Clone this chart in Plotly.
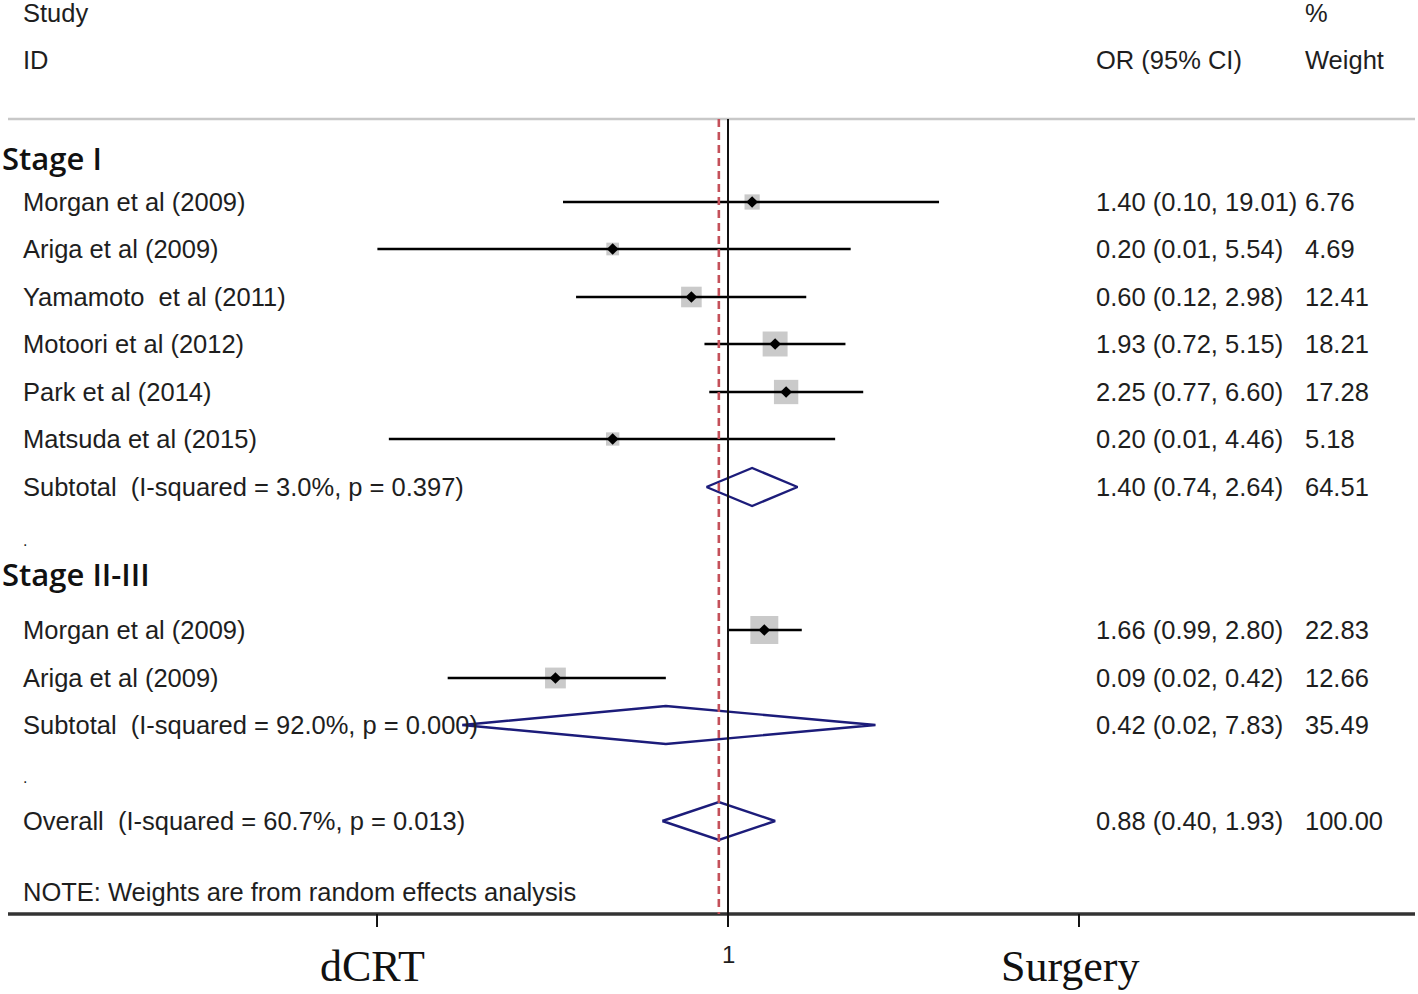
import plotly.graph_objects as go
import math

# ---------------- data ----------------
studies = ["Morgan et al (2009)", "Ariga et al (2009)", "Yamamoto  et al (2011)",
           "Motoori et al (2012)", "Park et al (2014)", "Matsuda et al (2015)",
           "Morgan et al (2009)", "Ariga et al (2009)"]
study_or = [1.40, 0.20, 0.60, 1.93, 2.25, 0.20, 1.66, 0.09]
study_lo = [0.10, 0.0075, 0.12, 0.72, 0.77, 0.0088, 0.99, 0.02]
study_hi = [19.01, 5.54, 2.98, 5.15, 6.60, 4.46, 2.80, 0.42]
study_wt = [6.76, 4.69, 12.41, 18.21, 17.28, 5.18, 22.83, 12.66]

pooled_labels = ["Subtotal  (I-squared = 3.0%, p = 0.397)",
                 "Subtotal  (I-squared = 92.0%, p = 0.000)",
                 "Overall  (I-squared = 60.7%, p = 0.013)"]
pooled_or = [1.40, 0.42, 0.88]
pooled_lo = [0.74, 0.0245, 0.40]
pooled_hi = [2.64, 7.83, 1.93]
pooled_wt = [64.51, 35.49, 100.00]

groups = ["Stage I", "Stage II-III"]
tick_vals = [1 / 134, 1, 134]
tick_text = ["", "1", ""]
left_label = "dCRT"
right_label = "Surgery"
note = "NOTE: Weights are from random effects analysis"

# ---------------- layout (page pixel rows) ----------------
W, H = 1418, 994
PX_PER_DEC = 165.0
X1_PX = 728.0
study_rows = [202, 249, 297, 344, 392, 439, 630, 678]
pooled_rows = [487, 725, 821]
group_rows = [158, 574]
dot_rows = [540, 777]
TOP_LINE, BOTTOM_LINE, TICK_END = 119, 914, 927
COL_NAME, COL_OR, COL_WT = 21, 1094, 1303

def px(xp):
    return xp / W

TXT = dict(family="Liberation Sans, Arial, sans-serif", size=25.5, color="#1e1e1e")

def fmt(v):
    return f"{v:.2f}"

fig = go.Figure()

# squares (weight-proportional area)
fig.add_trace(go.Scatter(
    x=study_or, y=study_rows, mode="markers",
    marker=dict(symbol="square", size=[5.85 * math.sqrt(w) for w in study_wt],
                color="#b4b4b4", line=dict(width=0)),
    hoverinfo="skip", showlegend=False))

# CI lines
xs, ys = [], []
for lo, hi, r in zip(study_lo, study_hi, study_rows):
    xs += [lo, hi, None]
    ys += [r, r, None]
fig.add_trace(go.Scatter(x=xs, y=ys, mode="lines",
                         line=dict(color="black", width=2.6),
                         hoverinfo="skip", showlegend=False))

# point estimates
fig.add_trace(go.Scatter(
    x=study_or, y=study_rows, mode="markers",
    marker=dict(symbol="diamond", size=9, color="black"),
    hoverinfo="skip", showlegend=False))

# pooled diamonds
HALF = 19
for est, lo, hi, r in zip(pooled_or, pooled_lo, pooled_hi, pooled_rows):
    fig.add_trace(go.Scatter(
        x=[lo, est, hi, est, lo], y=[r, r - HALF, r, r + HALF, r],
        mode="lines", fill="toself", fillcolor="white",
        line=dict(color="#1c1c7a", width=2.4),
        hoverinfo="skip", showlegend=False))

xmin_log = -X1_PX / PX_PER_DEC
xmax_log = (W - X1_PX) / PX_PER_DEC

shapes = [
    dict(type="line", xref="paper", yref="y", x0=px(8), x1=px(1415),
         y0=TOP_LINE, y1=TOP_LINE, line=dict(color="#c8c8c8", width=2.5)),
    dict(type="line", xref="paper", yref="y", x0=px(8), x1=px(1415),
         y0=BOTTOM_LINE, y1=BOTTOM_LINE, line=dict(color="#333333", width=3.5)),
    dict(type="line", xref="x", yref="y", x0=1, x1=1, y0=TOP_LINE, y1=TICK_END,
         line=dict(color="#111111", width=2)),
    dict(type="line", xref="x", yref="y", x0=pooled_or[-1], x1=pooled_or[-1],
         y0=TOP_LINE, y1=BOTTOM_LINE,
         line=dict(color="#c4505a", width=2.6, dash="8px,5px")),
]
for tv in tick_vals:
    shapes.append(dict(type="line", xref="x", yref="y", x0=tv, x1=tv,
                       y0=BOTTOM_LINE, y1=TICK_END, line=dict(color="#111111", width=2)))

ann = []
def add_text(x_px, y, text, font=TXT, xanchor="left"):
    ann.append(dict(x=px(x_px), xref="paper", y=y, yref="y", text=text,
                    showarrow=False, xanchor=xanchor, yanchor="middle", font=font))

add_text(COL_NAME, 13, "Study")
add_text(COL_NAME, 60, "ID")
add_text(COL_OR, 60, "OR (95% CI)")
add_text(COL_WT, 13, "%")
add_text(COL_WT, 60, "Weight")

bold = dict(family="Open Sans, Liberation Sans, sans-serif", size=31, color="#111111", weight=600)
for g, r in zip(groups, group_rows):
    ann.append(dict(x=0, xref="paper", y=r, yref="y", text=g,
                    showarrow=False, xanchor="left", yanchor="middle", font=bold))

for s, o, lo, hi, w, r in zip(studies, study_or, study_lo, study_hi, study_wt, study_rows):
    add_text(COL_NAME, r, s)
    add_text(COL_OR, r, f"{fmt(o)} ({fmt(lo)}, {fmt(hi)})")
    add_text(COL_WT, r, fmt(w))

for s, o, lo, hi, w, r in zip(pooled_labels, pooled_or, pooled_lo, pooled_hi, pooled_wt, pooled_rows):
    add_text(COL_NAME, r, s)
    add_text(COL_OR, r, f"{fmt(o)} ({fmt(lo)}, {fmt(hi)})")
    add_text(COL_WT, r, fmt(w))

for r in dot_rows:
    add_text(COL_NAME, r, ".", font=dict(family=TXT["family"], size=16, color="#1e1e1e"))

add_text(COL_NAME, 892, note)
ann.append(dict(x=math.log10(tick_vals[1]), xref="x", y=954, yref="y", text=tick_text[1],
                showarrow=False, xanchor="center", yanchor="middle",
                font=dict(family=TXT["family"], size=24, color="#1e1e1e")))
serif = dict(family="Liberation Serif, Times New Roman, serif", size=44, color="#111111")
ann.append(dict(x=px(373), xref="paper", y=966, yref="y", text=left_label, showarrow=False,
                xanchor="center", yanchor="middle", font=serif))
ann.append(dict(x=px(1070), xref="paper", y=966, yref="y", text=right_label, showarrow=False,
                xanchor="center", yanchor="middle", font=serif))

fig.update_layout(
    width=W, height=H, margin=dict(l=0, r=0, t=0, b=0),
    paper_bgcolor="white", plot_bgcolor="white",
    xaxis=dict(type="log", range=[xmin_log, xmax_log], visible=False, fixedrange=True),
    yaxis=dict(range=[H, 0], visible=False, fixedrange=True),
    shapes=shapes, annotations=ann, showlegend=False)

fig.write_html("out.html", config={"displayModeBar": False, "staticPlot": True},
               post_script="document.body.style.margin='0px';")
